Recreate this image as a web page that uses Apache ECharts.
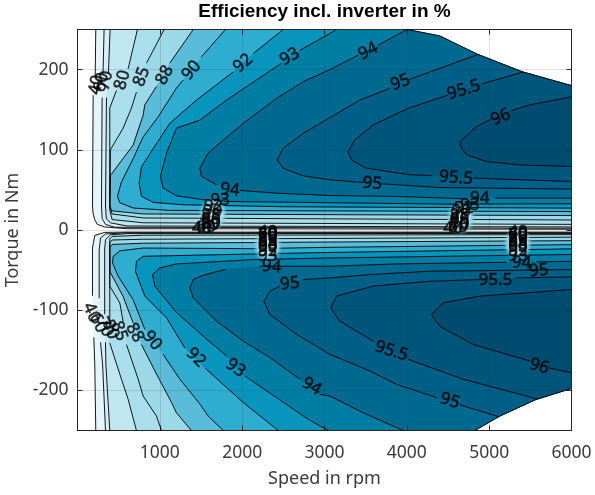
<!DOCTYPE html>
<html><head><meta charset="utf-8">
<style>html,body{margin:0;padding:0;background:#fff}#c{width:595px;height:495px}</style>
<script src="https://cdn.jsdelivr.net/npm/echarts@6/dist/echarts.min.js"></script></head>
<body><div id="c"></div>
<script>
const levels=[40,60,70,80,85,88,90,92,93,94,95,95.5,96];
const fillColors=['#e3f5fa','#d6eff6','#c0e6f1','#a9deec','#9dd8e8','#5abcd9','#2fadd0','#0795bd','#007da3','#006990','#005f86','#00557b','#004c70'];
const speedTicks=[1000,2000,3000,4000,5000,6000];
const torqueTicks=[-200,-100,0,100,200];
// speed (rpm), torque (Nm); null = gap left for a contour label
const limitUpper=[[4000,250],[4400,242],[4860,219],[5410,197],[6000,180]];
const limitLower=[[4826,-250],[5130,-232],[5575,-211],[6000,-197.5]];
const u40=[[222,250],[215,191],null,[190,168],[182,30],[190,20],[210,12.8],[240,7],[332,3.7],[600,1.6],[6000,1]];
const u60=[[323,250],[310,195],null,[299,165],[291,30],[300,14],[340,7],[450,3.4],[6000,2.2]];
const u70=[[396,250],[375,195],null,[352,165],[340,30],[350,14],[400,9],[600,5],[6000,3.8]];
const u80=[[728,250],[615,201],null,[473,174],[392,152],[392,25],[420,13],[800,9],[6000,7]];
const u85=[[1052,250],[838,208],null,[716,172],[655,152],[554,127],[400,100],[392,30],[420,20],[800,15],[6000,12.5]];
const u88=[[1405,250],[1121,208],null,[959,179],[817,156],[797,143],[676,106],[400,68],[392,32],[410,24],[800,20],[6000,18]];
const u90=[[1797,250],[1506,216],null,[1283,187],[1202,177],[979,141],[797,116],[676,89],[534,60],[485,42],[514,34],[676,27.4],[1121,24.4],[6000,23]];
const u92=[[2498,250],[2134,220],null,[1890,197],[1445,162],[1121,133],[898,98],[777,79],[749,58],[777,42],[919,34.4],[1283,31.5],[2500,29],[6000,27.3]];
const u93=[[3146,250],[3065,245],[2700,224],null,[2478,208],[2174,187],[1810,162],[1486,137],[1202,127],[1081,96],[1008,67],[1040,52],[1202,42.7],[1526,37.7],[1850,35.6],[3065,34],[4481,32.3],[6000,32.7]];
const u94=[[4003,250],[3651,230.5],null,[3408,218],[3065,200],[2741,185],[2417,164],[2012,133],[1587,96],[1486,77],[1506,67],[1688,56.4],null,[1971,49.3],[2417,46],[3065,43],[3874,41.9],[4684,39],null,[5068,39.8],[6000,39.8]];
const u95=[[4866,219],[4400,201.5],[4036,188],null,[3793,176.6],[3428,162],[3065,140],[2741,120.6],[2498,102],[2425,87.5],[2498,77],[2741,67.6],[3065,62.5],[3469,59.3],null,[3692,57.6],[4400,53],[6000,51]];
const u955=[[5412,197],[4906,182],null,[4501,168.3],[4015,151.7],[3590,131],[3368,112.3],[3287,97.8],[3327,87.5],[3509,77],[4036,68.8],[4300,67.8],null,[4805,64.7],[6000,60.5]];
const u96=[[6000,166],[5493,156],[5271,149],null,[5028,138.5],[4846,129],[4663,112.3],[4643,106],[4724,93.7],[4967,85.4],[5372,81.2],[6000,79.2]];
const l40=[[6000,-2.6],[600,-2.6],[332,-3],[210,-6.7],[182,-22.4],[182,-82],null,[198,-134],[210,-168],[222,-250]];
const l60=[[6000,-3.4],[600,-3.4],[340,-5],[280,-10],[263,-25],[263,-85],null,[280,-140],[305,-168],[340,-250]];
const l70=[[6000,-4.3],[600,-4.5],[400,-6],[340,-12],[330,-25],[330,-105],null,[340,-140],[345,-168],[392,-250]];
const l80=[[6000,-5.8],[800,-6.5],[420,-8],[392,-11],[392,-114],null,[392,-141],[534,-186],[615,-211],[716,-250]];
const l85=[[6000,-9],[3064,-10.5],[800,-11.5],[420,-12.5],[392,-16],[392,-70],[514,-91],[554,-114],null,[595,-143],[737,-186],[797,-207],[959,-232],[1020,-250]];
const l88=[[6000,-13.3],[3064,-15],[800,-16.5],[420,-18],[392,-22],[392,-51.5],[554,-83],[676,-116],null,[777,-143],[992,-186],[1142,-215],[1202,-228],[1384,-250]];
const l90=[[6000,-18.3],[3064,-21.6],[2133,-23.3],[797,-22.5],[514,-26],[433,-33],[425,-41],[494,-57.7],[676,-87],[818,-124],null,[1040,-155],[1243,-186],[1486,-217],[1587,-232],[1770,-250]];
const l92=[[6000,-23.5],[3064,-28],[2133,-29.9],[797,-32.8],[716,-39],[704,-51.4],[818,-82.5],[1081,-109.5],[1303,-147],null,[1546,-172],[2012,-215],[2437,-250]];
const l93=[[6000,-30.5],[3064,-34.9],[2133,-36.9],[1202,-42.3],[1000,-47.3],[911,-55.6],[939,-70],[1202,-103],[1567,-136],[1810,-157],null,[2032,-182],[2417,-209],[2801,-236],[3044,-250]];
const l94=[[6000,-39],[5574,-39.8],null,[5210,-40.3],[3874,-42.3],[3064,-45.2],[2214,-45.2],null,[1800,-49],[1526,-56.4],[1405,-61.8],[1364,-72],[1405,-84.6],[1688,-113.6],[2012,-138.5],[2336,-159],[2700,-186],null,[2943,-205],[3064,-207],[3469,-228],[3955,-250]];
const l95=[[6000,-49.4],[4279,-51.4],[3550,-55.6],[3064,-59.7],[2741,-61.8],null,[2457,-70],[2336,-76.3],[2263,-88.8],[2336,-105.3],[2660,-130],[3065,-155],[3550,-175.8],[3874,-192.4],[4360,-209],null,[4643,-218],[5109,-232.6]];
const l955=[[6000,-58.5],[5331,-59.7],null,[4886,-61.8],[4279,-63.9],[3590,-70],[3145,-82.5],[3076,-97],[3185,-113.6],[3590,-138.5],null,[4015,-161.3],[4684,-186],[5594,-211]];
const l96=[[6000,-74.2],[4886,-82.5],[4441,-90.8],[4299,-105.3],[4400,-120],[4805,-142.7],[5493,-163.4],null,[5716,-171.7],[6000,-178]];
const upperLines=[u40,u60,u70,u80,u85,u88,u90,u92,u93,u94,u95,u955,u96];
const lowerLines=[l40,l60,l70,l80,l85,l88,l90,l92,l93,l94,l95,l955,l96];
// label clusters' pale patches
const patches=[[1645,20],[2310,-20],[4655,15],[5347,-17]];
// contour labels: text, speed, torque, rotation
const labelRows=[
['40',230,181,80],['60',290,184,80],['70',340,186,78],['80',546,187,75],['85',781,191,70],['88',1060,193,62],['90',1384,199,50],['92',2011,208,40],['93',2578,216,30],['94',3530,223,27],['95',3923,184,22],['95.5',4692,174.5,17],['96',5141,140.5,23],
['94',1850,50,-6],['95',3578,58,-5],['95.5',4596,65,-4],
['93',1730,37,0],['92',1650,30,0],['90',1640,24,0],['88',1620,19,0],['85',1620,14,0],['80',1620,9,0],['70',1600,6,0],['60',1560,4,0],['40',1510,2.5,0],
['94',4886,40,0],['93',4765,31.5,0],['92',4690,27,0],['90',4660,23,0],['88',4640,18,0],['85',4640,14,0],['80',4640,9,0],['70',4640,6,0],['60',4620,4,0],['40',4560,2.5,0],
['40',2310,-3,0],['60',2310,-5,0],['70',2310,-7,0],['80',2310,-10,0],['85',2310,-14,0],['88',2310,-18,0],['90',2310,-22,0],['92',2310,-26,0],['93',2310,-32,0],['94',2356,-46,-5],['95',2578,-67,5],
['40',5350,-3,0],['60',5350,-5,0],['70',5350,-7,0],['80',5350,-10,0],['85',5350,-14,0],['88',5350,-18,0],['90',5350,-22,0],['92',5350,-26,0],['93',5350,-32,0],['94',5393,-41,-3],['95',5603,-50.6,5],['95.5',5075,-62,0],
['40',170,-103,-65],['60',250,-116,-65],['70',332,-121,-68],['80',400,-124,-70],['85',505,-126,-70],['88',696,-128,-60],['90',906,-138,-50],['92',1437,-159,-45],['93',1918,-172,-35],['94',2842,-195,-30],
['95.5',3813,-151,-17],['95',4522,-213,-17],['96',5608,-170,-17]
];

const solid=p=>p.filter(Boolean);
const polys=[];
levels.forEach((lv,i)=>{
  const u=solid(upperLines[i]);
  const startX=u[0][0];
  const edgeU=limitUpper.slice().reverse().filter(p=>p[0]>startX);
  polys.push({c:fillColors[i],p:u.concat(edgeU)});
  const l=solid(lowerLines[i]);
  const endX=l[l.length-1][0];
  const edgeL=limitLower.filter(p=>p[0]>endX);
  polys.push({c:fillColors[i],p:l.concat(edgeL)});
});
const lineData=a=>a.map(p=>p?p:['-','-']);
const lineSeries=(a,name)=>({type:'line',name:name,data:lineData(a),showSymbol:false,symbol:'none',silent:true,connectNulls:false,z:4,
  lineStyle:{color:'#000',width:0.9},animation:false});
const tickFont={fontFamily:'"Noto Sans"',fontSize:17.5,color:'#3a3a3a'};
const nameFont={fontFamily:'"Noto Sans"',fontSize:18,color:'#3a3a3a'};
const axisBase={axisLine:{show:true,onZero:false,lineStyle:{color:'#262626',width:1}},z:3};
const series=[
{type:'custom',name:'fills',z:1,silent:true,clip:true,animation:false,
 data:polys.map((_,i)=>[i]),
 encode:{x:[],y:[]},
 renderItem:(params,api)=>{
  const q=polys[api.value(0)];
  return {type:'polygon',shape:{points:q.p.map(v=>api.coord(v))},style:{fill:q.c,stroke:q.c,lineWidth:0.3}};
 }}
];
levels.forEach((lv,i)=>{series.push(lineSeries(upperLines[i],'u'+lv));series.push(lineSeries(lowerLines[i],'l'+lv));});
series.push(lineSeries(limitUpper,'limit+'));
series.push(lineSeries(limitLower,'limit-'));
series.push({type:'scatter',name:'patches',z:5,silent:true,animation:false,data:patches,symbol:'circle',symbolSize:[30,34],
 itemStyle:{opacity:1,color:{type:'radial',x:0.5,y:0.5,r:0.5,colorStops:[{offset:0,color:'#c8edf6'},{offset:0.65,color:'#a6deed'},{offset:1,color:'rgba(90,190,220,0)'}]}}});
series.push({type:'scatter',name:'contour labels',z:6,silent:true,animation:false,symbolSize:0,
 data:labelRows.map(r=>({value:[r[1],r[2]],label:{show:true,position:'inside',formatter:r[0],rotate:r[3],fontFamily:'"Noto Sans"',fontSize:17,color:'#000',textBorderColor:'#000',textBorderWidth:0.5}}))});

const chart=echarts.init(document.getElementById('c'),null,{renderer:'canvas'});
chart.setOption({
 animation:false,backgroundColor:'#fff',
 title:{text:'Efficiency incl. inverter in %',left:324.5,top:2,padding:0,textAlign:'center',textStyle:{fontFamily:'"Liberation Sans"',fontSize:19,fontWeight:'bold',color:'#000'}},
 grid:{left:77.5,right:23.5,top:29.5,bottom:64.5,containLabel:false,outerBoundsMode:'none'},
 xAxis:[
  Object.assign({},axisBase,{type:'value',min:0,max:6000,interval:1000,position:'bottom',
   name:'Speed in rpm',nameLocation:'middle',nameGap:39.5,nameTextStyle:nameFont,
   axisTick:{show:true,inside:true,length:5,lineStyle:{color:'#262626'}},
   splitLine:{show:true,lineStyle:{color:'rgba(38,38,38,0.15)',width:1}},
   axisLabel:Object.assign({},tickFont,{margin:14,formatter:v=>speedTicks.includes(v)?String(v):'',hideOverlap:false})}),
  Object.assign({},axisBase,{type:'value',min:0,max:6000,interval:1000,position:'top',
   axisTick:{show:true,inside:true,length:5,lineStyle:{color:'#262626'}},splitLine:{show:false},axisLabel:{show:false}})
 ],
 yAxis:[
  Object.assign({},axisBase,{type:'value',min:-250,max:250,position:'left',
   name:'Torque in Nm',nameLocation:'middle',nameGap:52,nameTextStyle:nameFont,
   axisTick:{show:true,inside:true,length:5,customValues:torqueTicks,lineStyle:{color:'#262626'}},
   splitLine:{show:true,lineStyle:{color:'rgba(38,38,38,0.15)',width:1}},
   axisLabel:Object.assign({},tickFont,{margin:9,customValues:torqueTicks,formatter:v=>String(v)})}),
  Object.assign({},axisBase,{type:'value',min:-250,max:250,position:'right',
   axisTick:{show:true,inside:true,length:5,customValues:torqueTicks,lineStyle:{color:'#262626'}},splitLine:{show:false},axisLabel:{show:false}})
 ],
 series:series
});
</script></body></html>
